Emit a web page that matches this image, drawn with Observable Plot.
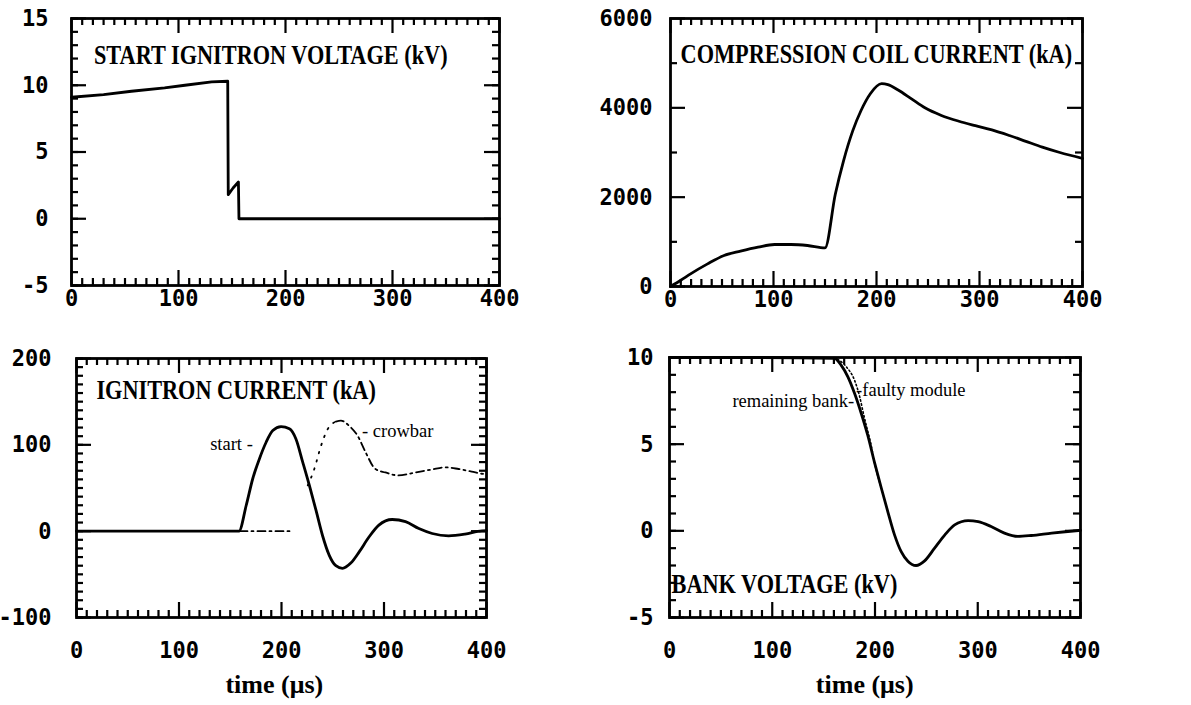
<!DOCTYPE html>
<html>
<head>
<meta charset="utf-8">
<script src="https://cdn.jsdelivr.net/npm/d3@7"></script>
<script src="https://cdn.jsdelivr.net/npm/@observablehq/plot@0.6"></script>
<style>
  body { margin: 0; background: #fff; }
  #fig { position: relative; width: 1191px; height: 705px; overflow: hidden; background: #fff; }
  #fig > div { position: absolute; }
</style>
</head>
<body>
<div id="fig"></div>
<script>
// ---- shared time axis (µs) ----
const timeTicks = [0, 100, 200, 300, 400];
const timeMinorTicks = [10, 20, 30, 40, 50, 60, 70, 80, 90, 110, 120, 130, 140, 150, 160, 170, 180, 190,
  210, 220, 230, 240, 250, 260, 270, 280, 290, 310, 320, 330, 340, 350, 360, 370, 380, 390];

// ---- start ignitron voltage (kV) ----
const startVoltT  = [0, 30, 56, 87, 106, 131, 146, 146.5, 151, 156, 156.5, 200, 300, 400];
const startVoltKV = [9.1, 9.3, 9.55, 9.8, 10.0, 10.25, 10.3, 1.8, 2.3, 2.75, 0, 0, 0, 0];
const startVoltTicks = [-5, 0, 5, 10, 15];

// ---- compression coil current (kA) ----
const coilT  = [0, 10, 19.5, 36, 52, 68, 85, 101, 117, 133, 150, 160, 168, 177, 185, 194, 205, 211, 221, 234, 247, 263, 280, 296, 312, 329, 345, 361, 378, 400];
const coilKA = [0, 140, 283, 507, 694, 791, 880, 940, 940, 918, 865, 2065, 2815, 3490, 3940, 4315, 4540, 4520, 4400, 4200, 4000, 3830, 3700, 3600, 3506, 3380, 3250, 3120, 3000, 2870];
const coilTicks = [0, 2000, 4000, 6000];
const coilMinorTicks = [1000, 3000, 5000];

// ---- ignitron currents (kA) ----
const startCurT  = [0, 80, 158.5, 165.6, 172, 178.5, 185, 191.5, 199.6, 207.7, 214, 220.7, 227.2, 233.7, 240, 246.6, 253, 259.5, 267.6, 275.8, 285.5, 295, 308, 321, 334, 347, 363, 379, 395.5, 400];
const startCurKA = [0, 0, 0, 30, 61, 84, 103, 116.5, 121, 118.5, 107, 80, 53, 24, -5, -28, -40, -43, -37, -24, -6.5, 7, 13.5, 11, 3, -2.7, -5.4, -3.5, 0.4, 0.5];
const crowbarT  = [159, 210.5, 218, 225.6, 232, 238.6, 245, 253, 258, 266, 274, 282, 291.6, 301.3, 314, 330.7, 346.8, 359.7, 372.7, 385.6, 395.3, 400];
const crowbarKA = [0, 0, NaN, 53, 72, 99, 118, 127, 128, 122, 111, 91.5, 72, 68, 64.6, 68, 71.5, 74, 72, 69, 66.5, 66];
const currentTicks = [-100, 0, 100, 200];

// ---- bank voltage (kV) ----
const remainT  = [0, 80, 160.5, 167, 173.5, 180, 186.5, 193, 199.5, 206, 212.5, 219, 225.5, 232, 240, 248, 258, 268, 277.5, 290.6, 300.4, 313, 326, 339, 352, 372, 398, 400];
const remainKV = [10, 10, 9.95, 9.56, 8.9, 7.95, 6.8, 5.5, 3.95, 2.5, 1.1, -0.23, -1.2, -1.75, -2.0, -1.75, -1.0, -0.23, 0.34, 0.59, 0.53, 0.25, -0.13, -0.32, -0.27, -0.13, 0.02, 0.03];
const faultyT  = [160, 172, 180, 185, 189, 192.5, 195.7, 199.5, 206];
const faultyKV = [10, 9.47, 8.7, 7.76, 6.7, 5.85, 5.1, 3.95, 2.5];
const bankTicks = [-5, 0, 5, 10];

const rows = (xs, ys) => xs.map((t, i) => ({t, v: ys[i]}));

// inward tick marks on all four sides of the frame; lengths given in pixels
// are converted to data units from the frame size
function frameTicks({xMinor, xMajor, yMinor, yMajor, xDomain, yDomain, fw, fh, minor = 7, major = 15}) {
  const [x0, x1] = xDomain, [y0, y1] = yDomain;
  const kx = (x1 - x0) / fw, ky = (y1 - y0) / fh;
  const o = {stroke: "#000", strokeWidth: 2.2};
  const m = [];
  for (const [vals, len] of [[xMinor, minor], [xMajor, major]]) {
    m.push(Plot.ruleX(vals, {x: d => d, y1: y0, y2: y0 + len * ky, ...o}));
    m.push(Plot.ruleX(vals, {x: d => d, y1: y1 - len * ky, y2: y1, ...o}));
  }
  for (const [vals, len] of [[yMinor, minor], [yMajor, major]]) {
    m.push(Plot.ruleY(vals, {y: d => d, x1: x0, x2: x0 + len * kx, ...o}));
    m.push(Plot.ruleY(vals, {y: d => d, x1: x1 - len * kx, x2: x1, ...o}));
  }
  return m;
}

// stretch text vertically around its own anchor
function stretch(svg, selector, s) {
  d3.select(svg).selectAll(selector).each(function () {
    const tr = this.getAttribute("transform");
    if (tr !== null) {
      this.setAttribute("transform", tr + ` scale(1,${s})`);
    } else {
      const x = +this.getAttribute("x") || 0, y = +this.getAttribute("y") || 0;
      this.setAttribute("transform", `translate(${x},${y}) scale(1,${s}) translate(${-x},${-y})`);
    }
  });
}

const fmt = d => String(d);
const titleFont = {fontFamily: "Liberation Serif", fontSize: 22.3, fontWeight: "bold", textAnchor: "start", fill: "#000"};
const noteFont = {fontFamily: "Liberation Serif", fontSize: 18.5, fontWeight: "normal", fill: "#000"};
const axisLabelFont = {fontFamily: "Liberation Serif", fontSize: 26, fontWeight: 700, fill: "#000"};

function panel({left, top, width, height, margins, yDomain, yLabels, yMinor, yMajor, yPad, xPad, marks}) {
  const [mt, mr, mb, ml] = margins;
  const svg = Plot.plot({
    width, height,
    marginTop: mt, marginRight: mr, marginBottom: mb, marginLeft: ml,
    x: {domain: [0, 400], nice: false},
    y: {domain: yDomain, nice: false},
    style: {fontFamily: "DejaVu Sans Mono", fontSize: "22px", fontWeight: "bold", color: "#000", background: "transparent", overflow: "visible"},
    marks: [
      ...frameTicks({xMinor: timeMinorTicks, xMajor: timeTicks, yMinor, yMajor, xDomain: [0, 400], yDomain,
                     fw: width - ml - mr, fh: height - mt - mb}),
      Plot.axisX(timeTicks, {tickSize: 0, tickPadding: xPad, tickFormat: fmt, label: null}),
      Plot.axisY(yLabels, {tickSize: 0, tickPadding: yPad, tickFormat: fmt, label: null}),
      ...marks,
      Plot.frame({stroke: "#000", strokeWidth: 2.8})
    ]
  });
  stretch(svg, 'g[aria-label="x-axis tick label"] text, g[aria-label="y-axis tick label"] text', 1.06);
  stretch(svg, 'g[font-weight="bold"][font-family="Liberation Serif"] text', 1.22);
  const box = document.createElement("div");
  box.style.left = left + "px";
  box.style.top = top + "px";
  box.appendChild(svg);
  document.getElementById("fig").appendChild(box);
}

const solid = {x: "t", y: "v", stroke: "#000", strokeWidth: 2.8};
const crowbarRows = rows(crowbarT, crowbarKA);

// START IGNITRON VOLTAGE
panel({
  left: 0, top: 0, width: 595, height: 330, margins: [18, 96, 45, 71],
  yDomain: [-5, 15], yLabels: startVoltTicks, yMinor: d3.range(-5, 16, 1), yMajor: startVoltTicks, yPad: 23, xPad: 4,
  marks: [
    Plot.line(rows(startVoltT, startVoltKV), {...solid, curve: "linear"}),
    Plot.text(["START IGNITRON VOLTAGE (kV)"], {x: 21, y: 12.25, text: d => d, ...titleFont})
  ]
});

// COMPRESSION COIL CURRENT
panel({
  left: 595, top: 0, width: 596, height: 330, margins: [18, 109, 44, 75],
  yDomain: [0, 6000], yLabels: coilTicks, yMinor: coilMinorTicks, yMajor: coilTicks, yPad: 18, xPad: 4,
  marks: [
    Plot.line(rows(coilT, coilKA), {...solid, curve: "monotone-x"}),
    Plot.text(["COMPRESSION COIL CURRENT (kA)"], {x: 9.8, y: 5207, text: d => d, ...titleFont})
  ]
});

// IGNITRON CURRENT
panel({
  left: 0, top: 330, width: 595, height: 375, margins: [28, 109, 88, 76],
  yDomain: [-100, 200], yLabels: currentTicks, yMinor: d3.range(-100, 201, 10), yMajor: currentTicks, yPad: 25, xPad: 24,
  marks: [
    // crowbar: sparse dots on the rising edge, dash-dot elsewhere
    Plot.line(crowbarRows.filter(d => d.t >= 225 && d.t <= 253), {x: "t", y: "v", stroke: "#000", strokeWidth: 1.8, strokeDasharray: "1.5,7", curve: "monotone-x"}),
    Plot.line(crowbarRows.filter(d => d.t < 225 || d.t >= 253), {x: "t", y: "v", stroke: "#000", strokeWidth: 1.8, strokeDasharray: "8,4,2,4", curve: "monotone-x"}),
    Plot.line(rows(startCurT, startCurKA), {...solid, curve: "monotone-x"}),
    Plot.text(["IGNITRON CURRENT (kA)"], {x: 19.4, y: 163, text: d => d, ...titleFont}),
    Plot.text(["start -"], {x: 172, y: 101, text: d => d, textAnchor: "end", ...noteFont}),
    Plot.text(["- crowbar"], {x: 278.6, y: 116.5, text: d => d, textAnchor: "start", ...noteFont}),
    Plot.text(["time (μs)"], {x: 193, frameAnchor: "bottom", dy: 75, text: d => d, textAnchor: "middle", ...axisLabelFont})
  ]
});

// BANK VOLTAGE
panel({
  left: 595, top: 330, width: 596, height: 375, margins: [27, 111, 88, 74],
  yDomain: [-5, 10], yLabels: bankTicks, yMinor: d3.range(-5, 11, 1), yMajor: bankTicks, yPad: 16, xPad: 24,
  marks: [
    Plot.line(rows(faultyT, faultyKV), {x: "t", y: "v", stroke: "#000", strokeWidth: 1.6, strokeDasharray: "1.5,2.5", curve: "monotone-x"}),
    Plot.line(rows(remainT, remainKV), {...solid, curve: "monotone-x"}),
    Plot.text(["BANK VOLTAGE (kV)"], {x: 2, y: -3.08, text: d => d, ...titleFont}),
    Plot.text(["remaining bank-"], {x: 179.7, y: 7.47, text: d => d, textAnchor: "end", ...noteFont}),
    Plot.text(["-faulty module"], {x: 181.6, y: 8.14, text: d => d, textAnchor: "start", ...noteFont}),
    Plot.text(["time (μs)"], {x: 190, frameAnchor: "bottom", dy: 75, text: d => d, textAnchor: "middle", ...axisLabelFont})
  ]
});
</script>
</body>
</html>
